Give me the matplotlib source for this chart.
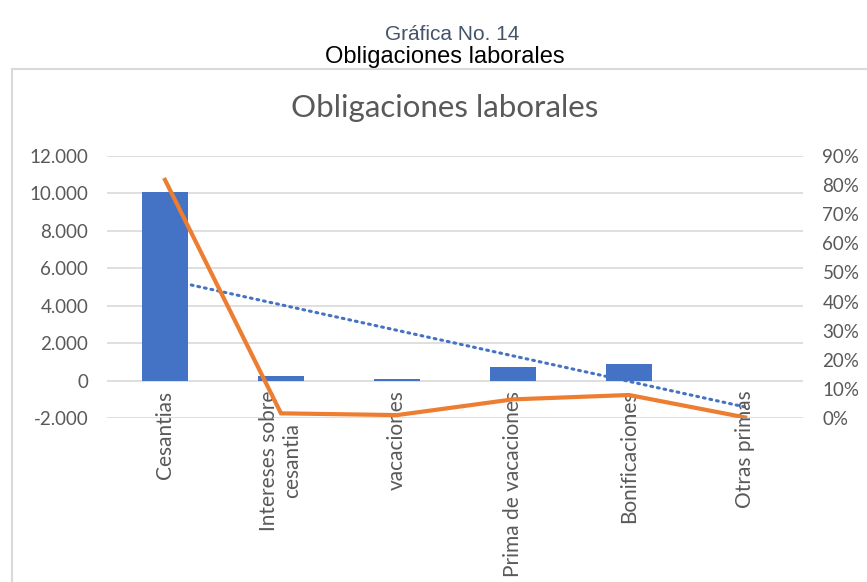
import matplotlib

matplotlib.use("Agg")

import matplotlib.pyplot as plt
import numpy as np
from matplotlib.patches import Rectangle
from matplotlib.ticker import FuncFormatter, MultipleLocator

categorias = [
    "Cesantias",
    "Intereses sobre\ncesantia",
    "vacaciones",
    "Prima de vacaciones",
    "Bonificaciones",
    "Otras primas",
]
valores = [10090, 230, 70, 730, 900, 0]
porcentajes = [0.818, 0.016, 0.010, 0.064, 0.079, 0.002]

AZUL = "#4472C4"
NARANJA = "#ED7D31"
GRIS = "#595959"
REJILLA = "#D9D9D9"

plt.rcParams["font.family"] = ["Lato", "DejaVu Sans"]

fig = plt.figure(figsize=(8.67, 5.82), dpi=100)

# encabezado del informe
fig.text(0.521, 1 - 34 / 582, "Gráfica No. 14", ha="center", va="center",
         fontsize=15, color="#44546A", family=["Liberation Sans", "DejaVu Sans"])
fig.text(0.513, 1 - 57.5 / 582, "Obligaciones laborales", ha="center", va="center",
         fontsize=17, color="black", family=["Liberation Sans", "DejaVu Sans"])

# marco del gráfico
fig.patches.append(Rectangle((12 / 867, -0.2), 1.2, 0.2 + (1 - 69 / 582),
                             transform=fig.transFigure, fill=False,
                             edgecolor=REJILLA, linewidth=1.5))

fig.text(0.513, 1 - 108 / 582, "Obligaciones laborales", ha="center", va="center",
         fontsize=22.5, color=GRIS)

ax = fig.add_axes([107 / 867, 1 - 418 / 582, (803 - 107) / 867, (418 - 156) / 582])
x = np.arange(len(categorias))

ax.bar(x, valores, width=0.4, color=AZUL, zorder=3)

# línea de tendencia lineal de las barras
m, b = np.polyfit(x, valores, 1)
ax.plot(x, m * x + b, color=AZUL, linestyle=(0, (0.6, 1.6)), linewidth=2.2,
        dash_capstyle="round", zorder=2)

ax.set_xlim(-0.5, len(categorias) - 0.5)
ax.set_ylim(-2000, 12000)
ax.yaxis.set_major_locator(MultipleLocator(2000))
ax.yaxis.set_major_formatter(FuncFormatter(lambda v, _: f"{v:,.0f}".replace(",", ".")))
ax.grid(axis="y", color=REJILLA, linewidth=1.2, zorder=0)
ax.set_axisbelow(True)
for s in ax.spines.values():
    s.set_visible(False)
ax.tick_params(axis="y", length=0, pad=13.5, labelsize=13.5, labelcolor=GRIS)
ax.set_xticks([])

for xi, cat in zip(x, categorias):
    ax.annotate(cat, (xi, 0), xytext=(0, -10), textcoords="offset pixels",
                rotation=90, ha="center", va="top", multialignment="center",
                fontsize=15, color=GRIS, annotation_clip=False)

ax2 = ax.twinx()
ax2.plot(x, porcentajes, color=NARANJA, linewidth=3, solid_joinstyle="miter", zorder=4)
ax2.set_ylim(0, 0.9)
ax2.yaxis.set_major_locator(MultipleLocator(0.1))
ax2.yaxis.set_major_formatter(FuncFormatter(lambda v, _: f"{v * 100:.0f}%"))
for s in ax2.spines.values():
    s.set_visible(False)
ax2.tick_params(axis="y", length=0, pad=14, labelsize=13.5, labelcolor=GRIS)

fig.savefig("out.png", dpi=100)
